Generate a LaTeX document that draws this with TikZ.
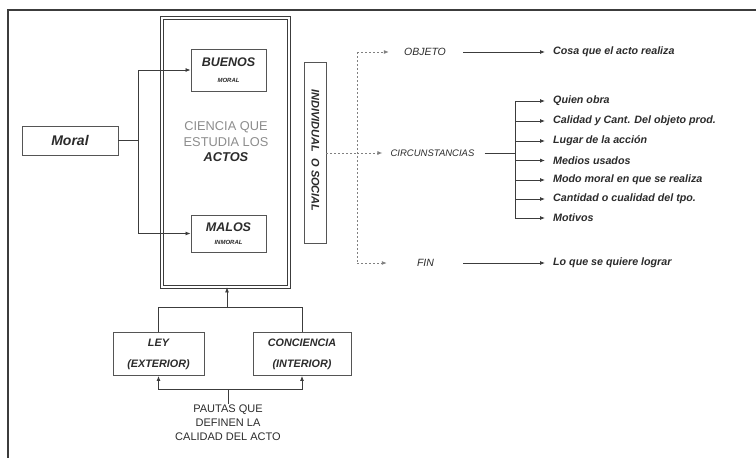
\documentclass[tikz,border=0pt]{standalone}
\usepackage{fontspec}
\setmainfont{Liberation Sans}
\usetikzlibrary{arrows.meta}
\definecolor{txt}{HTML}{2B2B2B}
\definecolor{ln}{HTML}{3C3C3C}
\definecolor{bx}{HTML}{555555}
\definecolor{lgray}{HTML}{8C8C8C}
\tikzset{
  box/.style={draw=bx, line width=0.9pt, fill=white, inner sep=0pt, text=txt},
  arr/.style={draw=ln, line width=0.8pt, -{Latex[length=5pt,width=4pt]}},
  plain/.style={draw=ln, line width=0.8pt},
  dotl/.style={draw=gray, line width=0.9pt, dash pattern=on 2pt off 2pt},
  dotarr/.style={dotl, -{Latex[length=5pt,width=4pt]}},
  lbl/.style={text=txt, inner sep=2pt},
  item/.style={text=txt, inner sep=2pt, anchor=west, font=\fontsize{10.7}{12}\selectfont\bfseries\itshape},
}
\begin{document}
\begin{tikzpicture}[x=1pt,y=-1pt]
\useasboundingbox (0,0) rectangle (756,458);
% outer frame (top and left)
\draw[line width=1.3pt, ln] (8,458) -- (8,10) -- (756,10);

% main box
\node[draw=ln, line width=0.8pt, double=white, double distance=1.6pt, minimum width=127pt, minimum height=269pt, inner sep=0pt] (main) at (225.5,152.5) {};
\node[lbl, align=center, text=lgray, font=\fontsize{12.8}{15.5}\selectfont] (ciencia) at (226,142) {CIENCIA QUE\\ESTUDIA LOS\\{\color{txt}\bfseries\itshape ACTOS}};

\node[box, minimum width=75pt, minimum height=42pt, align=center] (buenos) at (228.5,70)
  {{\fontsize{12.5}{13}\selectfont\bfseries\itshape BUENOS}\\[4pt]{\fontsize{6}{7}\selectfont\bfseries\itshape MORAL}};
\node[box, minimum width=75pt, minimum height=37pt, align=center] (malos) at (228.5,233.5)
  {{\fontsize{12.5}{13}\selectfont\bfseries\itshape MALOS}\\[1pt]{\fontsize{6}{7}\selectfont\bfseries\itshape INMORAL}};

\node[box, minimum width=96pt, minimum height=29pt, font=\fontsize{14}{16}\selectfont\bfseries\itshape] (moral) at (70,140.5) {Moral};

\coordinate (mj) at (138,140.5);
\draw[plain] (moral.east) -- (mj);
\draw[arr] (mj) |- (buenos.west);
\draw[arr] (mj) |- (malos.west);

% individual o social
\node[box, minimum width=22pt, minimum height=181pt] (indiv) at (315,152.5) {};
\node[lbl, rotate=-90, font=\fontsize{11}{12}\selectfont\bfseries\itshape] at (315.5,150.5) {INDIVIDUAL\ \ O SOCIAL};

% right side
\node[lbl, font=\fontsize{10.5}{11}\selectfont\itshape] (objeto) at (425,52) {OBJETO};
\node[lbl, font=\fontsize{9.5}{11}\selectfont\itshape] (circ) at (432.5,153) {CIRCUNSTANCIAS};
\node[lbl, font=\fontsize{10.5}{11}\selectfont\itshape] (fin) at (425.5,263) {FIN};

\coordinate (dj) at (357,153);
\draw[dotl] (indiv.east |- dj) -- (dj);
\draw[dotl] (357,52) -- (357,263);
\draw[dotarr, shorten >=13pt] (357,52) -- (objeto.west);
\draw[dotarr, shorten >=6pt] (dj) -- (circ.west);
\draw[dotarr, shorten >=28pt] (357,263) -- (fin.west);

\node[item] (cosa) at (551,52) {Cosa que el acto realiza};
\node[item] (lo) at (551,263) {Lo que se quiere lograr};
\coordinate (o1) at (463,52);
\coordinate (f1) at (463,263);
\draw[arr, shorten >=6pt] (o1) -- (cosa.west);
\draw[arr, shorten >=6pt] (f1) -- (lo.west);

\node[item] (c1) at (551,101) {Quien obra};
\node[item] (c2) at (551,121) {Calidad y Cant. Del objeto prod.};
\node[item] (c3) at (551,141) {Lugar de la acción};
\node[item] (c4) at (551,160.5) {Medios usados};
\node[item] (c5) at (551,180) {Modo moral en que se realiza};
\node[item] (c6) at (551,199) {Cantidad o cualidad del tpo.};
\node[item] (c7) at (551,218) {Motivos};

\coordinate (cj) at (515,153);
\draw[plain, shorten <=8pt] (circ.east) -- (cj);
\draw[plain] (cj |- c1.west) -- (cj |- c7.west);
\foreach \n in {c1,c2,c3,c4,c5,c6,c7}
  \draw[arr, shorten >=6pt] (cj |- \n.west) -- (\n.west);

% bottom
\node[box, minimum width=91pt, minimum height=43pt, align=center, font=\fontsize{10.8}{21}\selectfont\bfseries\itshape] (ley) at (158.5,354) {LEY\\(EXTERIOR)};
\node[box, minimum width=98pt, minimum height=43pt, align=center, font=\fontsize{10.8}{21}\selectfont\bfseries\itshape] (conc) at (302,354) {CONCIENCIA\\(INTERIOR)};

\coordinate (bj) at (227,308);
\draw[arr] (bj) -- (bj |- main.south);
\draw[plain] (ley.north) -- ++(0,-24.5) -| (conc.north);

\node[lbl, align=center, anchor=north, inner sep=1pt, font=\fontsize{11}{14}\selectfont] (pautas) at (228,404) {PAUTAS QUE\\DEFINEN LA\\CALIDAD DEL ACTO};
\coordinate (pj) at (228,389);
\draw[arr] (pj) -| (ley.south);
\draw[arr] (pj) -| (conc.south);
\draw[plain] (pj) -- (pautas.north);
\end{tikzpicture}
\end{document}
